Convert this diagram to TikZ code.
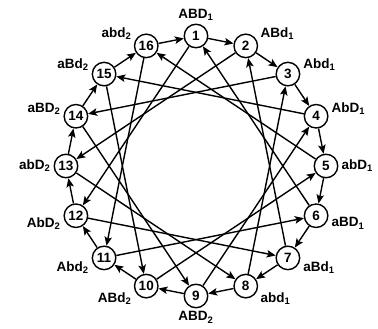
\documentclass[tikz,border=0pt]{standalone}
\usepackage{fontspec}
\setmainfont{Liberation Sans}
\usetikzlibrary{arrows.meta,positioning,calc}
\tikzset{
  gstate/.style={draw, circle, line width=1.4pt, minimum size=23.5pt, inner sep=0pt,
                 font=\bfseries\fontsize{13.5}{15}\selectfont},
  glabel/.style={font=\bfseries\fontsize{13.5}{15}\selectfont, inner sep=1pt},
  gstep/.style={-{Stealth[length=9pt, width=7.5pt, inset=2pt]}, line width=1.4pt},
}

\begin{document}
\begin{tikzpicture}[x=1pt, y=1pt, every label/.style={glabel}, label distance=2pt]
\useasboundingbox (0,0) rectangle (378,329);
\coordinate (c) at (196,163);

% states, clockwise from the top
\node[gstate, label={90:ABD\textsubscript{1}}]    (n1)  at ($(c)+(90:130)$)    {1};
\node[gstate, label={20:ABd\textsubscript{1}}]    (n2)  at ($(c)+(67.5:130)$)  {2};
\node[gstate, label={10:Abd\textsubscript{1}}]    (n3)  at ($(c)+(45:130)$)    {3};
\node[gstate, label={3:AbD\textsubscript{1}}]     (n4)  at ($(c)+(22.5:130)$)  {4};
\node[gstate, label={0:abD\textsubscript{1}}]     (n5)  at ($(c)+(0:130)$)     {5};
\node[gstate, label={-3:aBD\textsubscript{1}}]    (n6)  at ($(c)+(-22.5:130)$) {6};
\node[gstate, label={-10:aBd\textsubscript{1}}]   (n7)  at ($(c)+(-45:130)$)   {7};
\node[gstate, label={-20:abd\textsubscript{1}}]   (n8)  at ($(c)+(-67.5:130)$) {8};
\node[gstate, label={-90:ABD\textsubscript{2}}]   (n9)  at ($(c)+(-90:130)$)   {9};
\node[gstate, label={200:ABd\textsubscript{2}}]   (n10) at ($(c)+(-112.5:130)$) {10};
\node[gstate, label={190:Abd\textsubscript{2}}]   (n11) at ($(c)+(-135:130)$)  {11};
\node[gstate, label={183:AbD\textsubscript{2}}]   (n12) at ($(c)+(-157.5:130)$) {12};
\node[gstate, label={180:abD\textsubscript{2}}]   (n13) at ($(c)+(180:130)$)   {13};
\node[gstate, label={177:aBD\textsubscript{2}}]   (n14) at ($(c)+(157.5:130)$) {14};
\node[gstate, label={170:aBd\textsubscript{2}}]   (n15) at ($(c)+(135:130)$)   {15};
\node[gstate, label={160:abd\textsubscript{2}}]   (n16) at ($(c)+(112.5:130)$) {16};

% ring: each state to the next one
\draw[gstep] (n1) -- (n2);
\draw[gstep] (n2) -- (n3);
\draw[gstep] (n3) -- (n4);
\draw[gstep] (n4) -- (n5);
\draw[gstep] (n5) -- (n6);
\draw[gstep] (n6) -- (n7);
\draw[gstep] (n7) -- (n8);
\draw[gstep] (n8) -- (n9);
\draw[gstep] (n9) -- (n10);
\draw[gstep] (n10) -- (n11);
\draw[gstep] (n11) -- (n12);
\draw[gstep] (n12) -- (n13);
\draw[gstep] (n13) -- (n14);
\draw[gstep] (n14) -- (n15);
\draw[gstep] (n15) -- (n16);
\draw[gstep] (n16) -- (n1);

% chords: each state five steps back
\draw[gstep] (n1) -- (n12);
\draw[gstep] (n2) -- (n13);
\draw[gstep] (n3) -- (n14);
\draw[gstep] (n4) -- (n15);
\draw[gstep] (n5) -- (n16);
\draw[gstep] (n6) -- (n1);
\draw[gstep] (n7) -- (n2);
\draw[gstep] (n8) -- (n3);
\draw[gstep] (n9) -- (n4);
\draw[gstep] (n10) -- (n5);
\draw[gstep] (n11) -- (n6);
\draw[gstep] (n12) -- (n7);
\draw[gstep] (n13) -- (n8);
\draw[gstep] (n14) -- (n9);
\draw[gstep] (n15) -- (n10);
\draw[gstep] (n16) -- (n11);

\end{tikzpicture}
\end{document}
